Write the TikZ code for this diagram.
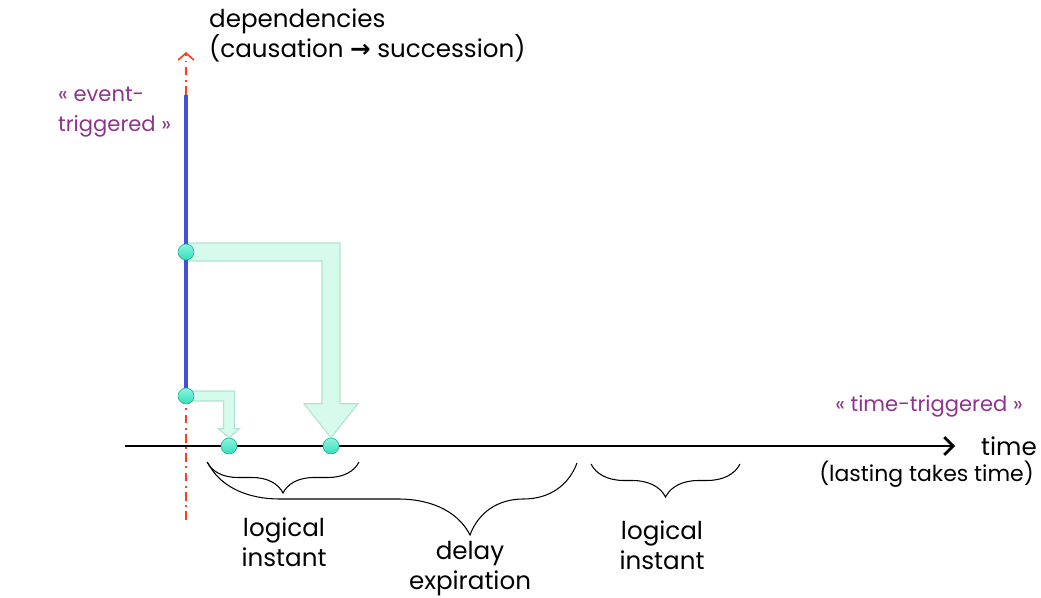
\documentclass[tikz,border=0pt]{standalone}
\usepackage{fontspec}
\setmainfont{Poppins}
\newfontfamily\symfont{DejaVu Sans}
\usetikzlibrary{arrows.meta,positioning,calc,decorations.pathreplacing,backgrounds}
\definecolor{mint}{RGB}{214,250,236}
\definecolor{mintedge}{RGB}{176,228,210}
\definecolor{dotgreen}{RGB}{50,222,186}
\definecolor{dotlight}{RGB}{140,245,222}
\definecolor{dotedge}{RGB}{30,170,140}
\definecolor{trigpurple}{RGB}{142,52,142}
\definecolor{causeblue}{RGB}{66,82,210}
\definecolor{depred}{RGB}{255,60,30}

\begin{document}
\begin{tikzpicture}[x=0.02cm,y=-0.02cm,
  dot/.style={circle,inner sep=0pt,minimum size=0.32cm,draw=dotedge,line width=0.3pt,top color=dotlight,bottom color=dotgreen},
  fatarrow/.style={fill=mint,draw=mintedge,line width=0.6pt},
  trig/.style={text=trigpurple,font=\fontsize{12}{17}\selectfont,align=left},
  lbl/.style={font=\fontsize{14}{17}\selectfont,align=center},
  spanbrace/.style={decorate,decoration={brace,mirror,amplitude=#1},line width=0.6pt}]
  \useasboundingbox (0,0) rectangle (1041,598);
  % instants: on the dependency axis, then on the time axis
  \node[dot] (e1) at (186,252) {};
  \node[dot] (e2) at (186,396) {};
  \node[dot] (t1) at (229,446) {};
  \node[dot] (t2) at (331,446) {};
  \coordinate (dbot) at (186,520);
  \coordinate (dtop) at (186,52);
  \coordinate (bstart) at (186,95);
  \coordinate (ax0) at (125,446);
  \coordinate (ax1) at (955,446);
  \begin{scope}[on background layer]
    \draw[depred,line width=0.9pt,dash pattern=on 5pt off 2.5pt on 1pt off 2.5pt,-{Straight Barb[length=4pt,width=9pt]}] (dbot) -- (dtop);
    \draw[fatarrow] ($(e1)+(0,-9)$) -| ($(t2.north)+(9,-34)$) -- ++(18,0) -- (t2.north) -- ++(-27,-34) -- ++(18,0) |- ($(e1)+(0,9)$) -- cycle;
    \draw[fatarrow] ($(e2)+(0,-5)$) -| ($(t1.north)+(5.5,-9)$) -- ++(5,0) -- (t1.north) -- ++(-10.5,-9) -- ++(5,0) |- ($(e2)+(0,5)$) -- cycle;
    \draw[causeblue,line width=2.8pt] (bstart) -- (e2);
    \draw[line width=1.6pt,-{Straight Barb[length=5pt,width=10pt]}] (ax0) -- (ax1);
  \end{scope}
  % texts
  \node[lbl,align=left,anchor=west] (deps) at (203,35) {dependencies\\(causation {\symfont\bfseries →} succession)};
  \node[trig,anchor=west] (evtrig) at (52,112) {« event-\\triggered »};
  \node[trig] (timetrig) at (929,406) {« time-triggered »};
  \node[lbl,anchor=west] (time) at (975,446) {time};
  \node[lbl,anchor=east,font=\fontsize{12.5}{17}\selectfont] (lasting) at (1040,474) {(lasting takes time)};
  % braces
  \draw[spanbrace=0.62cm] (207,462) -- (359,462);
  \draw[spanbrace=1.44cm,decoration={aspect=0.71}] (208,463) -- (577,463);
  \draw[spanbrace=0.66cm] (591,464) -- (740,464);
  \node[lbl] (li1) at (284,542) {logical\\instant};
  \node[lbl] (delay) at (470,569) {delay\\expiration};
  \node[lbl] (li2) at (662,545) {logical\\instant};
\end{tikzpicture}
\end{document}
